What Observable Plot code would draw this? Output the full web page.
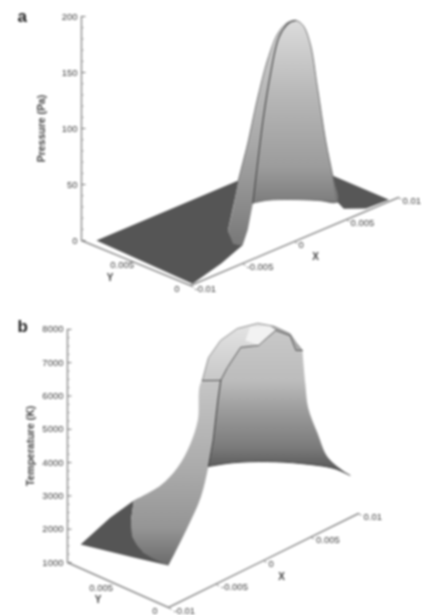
<!DOCTYPE html>
<html>
<head>
<meta charset="utf-8">
<script src="https://cdn.jsdelivr.net/npm/d3@7"></script>
<script src="https://cdn.jsdelivr.net/npm/@observablehq/plot@0.6"></script>
<style>
html,body{margin:0;padding:0;background:#fff;}
svg{display:block;filter:blur(0.8px);}
</style>
</head>
<body>
<div id="chart"></div>
<script>
// ---------- Tick values ----------
const xTicks = [-0.01, -0.005, 0, 0.005, 0.01];
const xTickLabels = ["-0.01", "-0.005", "0", "0.005", "0.01"];
const pressureTicks = [0, 50, 100, 150, 200];
const pressureMinor = [10,20,30,40,60,70,80,90,110,120,130,140,160,170,180,190];
const temperatureTicks = [1000,2000,3000,4000,5000,6000,7000,8000];
const temperatureMinor = [1250,1500,1750,2250,2500,2750,3250,3500,3750,4250,4500,4750,5250,5500,5750,6250,6500,6750,7250,7500,7750];

// ---------- Panel a: pressure surface, [x, y, pressure] ----------
const pFloorLeft = [[-0.0093,0.0093,0],[0.0044,0.0093,0],[0.0010,0.0066,0],[-0.0019,0.0043,0],[-0.0031,0.0026,0],[-0.0029,0.0020,0],[-0.0060,0.0010,0],[-0.0097,0.0001,0]];
const pFloorRight = [[0.0094,0.0055,0],[0.0093,0.0002,0],[0.0072,0.0003,0],[0.0061,0.0013,0],[0.0067,0.0026,0]];
const pSilhouette = [[-0.0054,0,76],[-0.0049,0,92],[-0.0045,0,105],[-0.0036,0,140],[-0.0026,0,172],[-0.0016,0,192],[-0.0007,0,198],[0.0001,0,197],[0.0008,0,190],[0.0015,0,171],[0.0022,0,129],[0.0030,0,78],[0.0037,0,43],[0.0041,0,19]];
const pRim = [[-0.0040,0,50],[-0.0036,0,80],[-0.0030,0,122],[-0.0023,0,159],[-0.0015,0,188],[-0.0006,0,197],[0.0001,0,197]];
const pBaseArc = [[-0.0040,0,50],[-0.0026,0,47],[-0.0004,0,39],[0.0022,0,28],[0.0041,0,19]];
const pToe = [[-0.0054,0,76],[-0.0059,0,53],[-0.0064,0,35],[-0.0059,0,21],[-0.0050,0,16],[-0.0045,0,28],[-0.0040,0,50]];

// ---------- Panel b: temperature surface, [x, y, temperature] ----------
const tDark = [[-0.01,0.0087,1715],[-0.0069,0.0087,2081],[-0.0044,0.0087,2249],[-0.0047,0.0087,1694],[-0.0045,0.0087,1153],[-0.0073,0.005,1598],[-0.01,0,2261],[-0.0094,0.004,1880]];
const tStripOuter = [[-0.0044,0.0087,2249],[-0.0016,0.0087,2300],[0.0002,0.0087,2586],[-0.0013,0.006,3886],[-0.0016,0.005,4760],[-0.0022,0.004,6171]];
const tStripInner = [[-0.0045,0,7045],[-0.0048,0,6486],[-0.0053,0,5345],[-0.0058,0,4640],[-0.0066,0,3829],[-0.0080,0,3120],[-0.01,0,2261],[-0.01,0,2261],[-0.0073,0.005,1598],[-0.0045,0.0087,1153],[-0.0047,0.0087,1694]];
const tCapOuter = [[-0.0022,0.004,6171],[-0.0026,0.003,7057],[-0.0024,0.002,7676],[-0.0017,0.001,8069],[-0.0006,0,8207],[0.0011,0,7877],[0.0028,0,7414],[0.0034,0,7069],[0.0041,0,6727]];
const tCapRim = [[0.0041,0,6727],[0.0034,0,6829],[0.0028,0,7354],[0.0013,0,7727],[0.0004,0,7637],[-0.0005,0,7529],[-0.0024,0,7739],[-0.0038,0,7330],[-0.0045,0,7045]];
const tHighlight = [[-0.0005,0,7529],[0.0004,0,7637],[0.0013,0,7727],[0.0007,0,7952],[-0.0014,0,8219],[-0.0019,0,7874]];
const tCapRight = [[0.0007,0,7952],[0.0011,0,7877],[0.0028,0,7414],[0.0034,0,7069],[0.0041,0,6727],[0.0034,0,6829],[0.0028,0,7354],[0.0013,0,7727]];
const tFaceRight = [[0.0041,0,6727],[0.0044,0,5691],[0.0047,0,4925],[0.0057,0,4009],[0.0068,0,3126],[0.0091,0,2273]];
const tBaseArc = [[0.0091,0,2273],[0.0074,0,2721],[0.0039,0,3363],[0.0004,0,3913],[-0.0032,0,4387],[-0.0058,0,4640]];

// ---------- Gradient stops (offset down the shape, grey) ----------
const pFaceStops = [[0,"#dcdcdc"],[0.4,"#b8b8b8"],[0.8,"#9c9c9c"],[1,"#7c7c7c"]];
const pStripStops = [[0,"#d0d0d0"],[0.55,"#a8a8a8"],[1,"#787878"]];
const tFaceStops = [[0,"#c8c8c8"],[0.35,"#bcbcbc"],[0.55,"#9c9c9c"],[0.8,"#7c7c7c"],[1,"#505050"]];
const tStripStops = [[0,"#c6c6c6"],[0.5,"#aaaaaa"],[0.8,"#959595"],[1,"#6a6a6a"]];
const tCapStops = [[0,"#e4e4e4"],[1,"#c8c8c8"]];

const W = 422;

function gradients(defsList) {
  return () => {
    const defs = d3.create("svg:defs");
    for (const [id, stops] of defsList) {
      const g = defs.append("linearGradient").attr("id", id).attr("x1",0).attr("x2",0).attr("y1",0).attr("y2",1);
      for (const [o, c] of stops) g.append("stop").attr("offset", o).attr("stop-color", c);
    }
    return defs.node();
  };
}

function makeProjection(ox, oy, xu, xv, yu, yv, zv, z0) {
  // oblique view: (x=-0.01, y=0, z=z0) sits at the front corner
  return ([x, y, z]) => ({
    u: ox + (x + 0.01) * xu - y * yu,
    v: oy - (x + 0.01) * xv - y * yv - (z - z0) * zv
  });
}

function axesMarks(P, o) {
  const {z0, zTicks, zMinor, zTitle, fmt, t} = o;
  const pts = a => a.map(P);
  const txt = {fontFamily:"'Liberation Sans',Arial,sans-serif", fontSize:9.5, fill:"#444", stroke:"none"};
  const zTop = zTicks[zTicks.length-1];
  const zAt = zTicks.map(v => ({...P([-0.01,0.01,v]), label:fmt(v)}));
  const zMin = zMinor.map(v => P([-0.01,0.01,v]));
  const xAt = xTicks.map((v,i) => ({...P([v,0,z0]), label:xTickLabels[i]}));
  const yMid = P([-0.01,0.005,z0]);
  const yEnd = P([-0.01,0,z0]);
  const xMid = P([0,0,z0]);
  const axisStyle = {stroke:"#8c8c8c", strokeWidth:1.4};
  return [
    Plot.line(pts([[-0.01,0.01,zTop],[-0.01,0.01,z0]]), {x:"u",y:"v",...axisStyle}),
    Plot.line(pts([[-0.01,0.01,z0],[-0.01,0,z0]]), {x:"u",y:"v",...axisStyle}),
    Plot.line(pts([[-0.01,0,z0],[0.01,0,z0]]), {x:"u",y:"v",...axisStyle}),
    Plot.link(zAt, {x1:"u",y1:"v",x2:d=>d.u+4,y2:"v",stroke:"#777",strokeWidth:1}),
    Plot.link(zMin, {x1:"u",y1:"v",x2:d=>d.u+2,y2:"v",stroke:"#999",strokeWidth:1}),
    Plot.link(xAt, {x1:"u",y1:"v",x2:d=>d.u+3,y2:d=>d.v+2,stroke:"#888",strokeWidth:1}),
    Plot.text(zAt, {x:"u",y:"v",text:"label",textAnchor:"end",dx:-4,...txt}),
    Plot.text(xAt, {x:"u",y:"v",text:"label",textAnchor:"start",dx:t.xdx,dy:t.xdy,...txt}),
    Plot.text([yMid], {x:"u",y:"v",text:()=>"0.005",textAnchor:"end",dx:t.ydx,dy:t.ydy,...txt}),
    Plot.text([yEnd], {x:"u",y:"v",text:()=>"0",textAnchor:"end",dx:-11,dy:3,...txt}),
    Plot.text([xMid], {x:"u",y:"v",text:()=>"X",dx:t.Xdx,dy:t.Xdy,...txt,fontSize:10,fontWeight:"bold"}),
    Plot.text([yMid], {x:"u",y:"v",text:()=>"Y",dx:t.Ydx,dy:t.Ydy,...txt,fontSize:10,fontWeight:"bold"}),
    Plot.text([P([-0.01,0.01,t.titleAt])], {x:"u",y:"v",text:()=>zTitle,rotate:-90,dx:t.titleDx,...txt,fontWeight:"bold",fontSize:10.5}),
    Plot.text([o.letter], {frameAnchor:"top-left",dx:t.ldx,dy:t.ldy,text:d=>d,fontFamily:"'Liberation Sans',Arial,sans-serif",fontWeight:"bold",fontSize:17,fill:"#222"})
  ];
}

function panel(top, height, marks) {
  return Plot.plot({
    width: W, height,
    margin: 0,
    x: {domain:[0,W], range:[0,W], axis:null},
    y: {domain:[top, top+height], range:[0,height], axis:null},
    style: {background:"#fff"},
    marks
  });
}

// ---- Panel a
const PA = makeProjection(190,285, 10400,4400, 10900,4500, 1.12, 0);
const polyA = (a, fill, extra={}) => Plot.line(a.map(PA), {x:"u",y:"v",fill,stroke:"none",...extra});
const edgeA = (a, stroke, sw) => Plot.line(a.map(PA), {x:"u",y:"v",stroke,strokeWidth:sw,curve:"catmull-rom"});
const plotA = panel(0, 300, [
  gradients([["pFace",pFaceStops],["pStrip",pStripStops]]),
  polyA(pFloorLeft, "#555555"),
  polyA(pFloorRight, "#575757"),
  polyA([...pSilhouette.slice(0,8), ...pRim.slice().reverse(), ...pToe.slice().reverse().slice(1)], "url(#pStrip)"),
  polyA([...pRim, ...pSilhouette.slice(8), ...pBaseArc.slice().reverse().slice(1)], "url(#pFace)", {curve:"catmull-rom"}),
  edgeA(pSilhouette, "#666", 0.9),
  edgeA(pRim, "#444", 1.1),
  edgeA(pBaseArc, "#666", 0.8),
  ...axesMarks(PA, {z0:0, zTicks:pressureTicks, zMinor:pressureMinor, zTitle:"Pressure (Pa)", fmt:String, letter:"a",
    t:{xdx:4,xdy:3,ydx:-2,ydy:2,Xdx:21,Xdy:15,Ydx:-26,Ydy:15,titleAt:100,titleDx:-40,ldx:17,ldy:9}})
]);

// ---- Panel b
const PB = makeProjection(168,607, 9500,4700, 10100,4500, 0.0333, 1000);
const polyB = (a, fill, extra={}) => Plot.line(a.map(PB), {x:"u",y:"v",fill,stroke:"none",...extra});
const edgeB = (a, stroke, sw, curve="linear") => Plot.line(a.map(PB), {x:"u",y:"v",stroke,strokeWidth:sw,curve});
const plotB = panel(300, 315, [
  gradients([["tFace",tFaceStops],["tStrip",tStripStops],["tCap",tCapStops]]),
  polyB(tDark, "#555555"),
  polyB([...tStripOuter, ...tStripInner], "url(#tStrip)", {curve:"catmull-rom"}),
  polyB([...tCapRim, ...tStripInner.slice(1,4), tStripInner[3], ...tBaseArc.slice().reverse().slice(1), tBaseArc[0], ...tFaceRight.slice().reverse().slice(1)], "url(#tFace)", {curve:"catmull-rom"}),
  polyB([...tCapOuter, ...tCapRim.slice(1)], "url(#tCap)"),
  polyB(tHighlight, "#f2f2f2"),
  polyB(tCapRight, "#ababab"),
  edgeB(tCapOuter, "#777", 0.8),
  edgeB(tCapRim, "#555", 1),
  edgeB([tCapOuter[0], tCapRim[tCapRim.length-1]], "#555", 1),
  edgeB(tStripInner.slice(0,4), "#444", 1.1),
  edgeB(tBaseArc, "#444", 1, "catmull-rom"),
  ...axesMarks(PB, {z0:1000, zTicks:temperatureTicks, zMinor:temperatureMinor, zTitle:"Temperature (K)", fmt:String, letter:"b",
    t:{xdx:5,xdy:3,ydx:-5,ydy:3,Xdx:18,Xdy:16,Ydx:-20,Ydy:15,titleAt:4500,titleDx:-37,ldx:17,ldy:19}})
]);

const root = document.getElementById("chart");
root.append(plotA, plotB);
</script>
</body>
</html>
